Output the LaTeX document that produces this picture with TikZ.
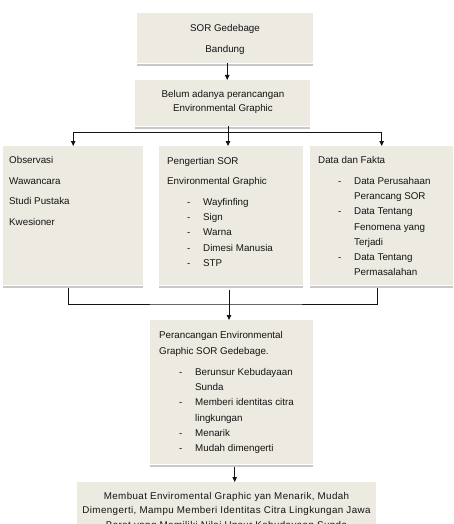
\documentclass[tikz,border=0pt]{standalone}
\usepackage{fontspec}
\setmainfont{Liberation Sans}
\newfontfamily\widefont[LetterSpace=4]{Liberation Sans}
\usepackage{tikz}
\usetikzlibrary{arrows.meta, positioning, calc}
\definecolor{boxbeige}{RGB}{236,234,225}
\definecolor{shadegrey}{RGB}{200,200,200}
\definecolor{mydark}{RGB}{20,20,20}
\tikzset{
  box/.style={rectangle, fill=boxbeige, draw=none, inner sep=0pt,
    anchor=north west},
  txt/.style={inner sep=0pt, anchor=base west, text=mydark,
    font=\fontsize{9.8}{14}\selectfont},
  ctxt/.style={txt, anchor=base},
  widetxt/.style={ctxt, font=\widefont\fontsize{9.8}{14}\selectfont},
  shadeline/.style={draw=shadegrey, line width=2.4pt},
  arrow/.style={-{Triangle[width=4.5pt,length=5pt]}, line width=0.8pt, color=mydark},
  line/.style={line width=0.8pt, color=mydark}
}

\begin{document}
\begin{tikzpicture}[x=1pt, y=-1pt]
  \useasboundingbox (0,0) rectangle (454,524);

  % boxes
  \node[box, minimum width=176, minimum height=50] (sor) at (137,13) {};
  \node[box, minimum width=175, minimum height=46] (belum) at (135,80) {};
  \node[box, minimum width=140, minimum height=139] (kiri) at (3,146) {};
  \node[box, minimum width=144, minimum height=139] (tengah) at (159,146) {};
  \node[box, minimum width=143, minimum height=139] (kanan) at (310,146) {};
  \node[box, minimum width=163, minimum height=144] (rancang) at (150,320) {};
  \node[box, minimum width=299, minimum height=60] (hasil) at (77,482) {};
  \foreach \b in {sor, belum, kiri, tengah, kanan, rancang}
    \draw[shadeline] ([yshift=-1.4pt]\b.south west) -- ([yshift=-1.4pt]\b.south east);

  % SOR Gedebage
  \node[ctxt] (sor1) at (225,31.5) {SOR Gedebage};
  \node[ctxt] (sor2) at (225,52.5) {Bandung};

  % Belum adanya perancangan
  \node[ctxt] (belum1) at (223,97.5) {Belum adanya perancangan};
  \node[ctxt] (belum2) at (223,111.5) {Environmental Graphic};

  % metode
  \foreach \t [count=\i from 0] in {Observasi, Wawancara, Studi Pustaka, Kwesioner}
    \node[txt] (metode\i) at (9,163.5+20.7*\i) {\t};

  % pengertian
  \node[txt] (peng1) at (167,164.5) {Pengertian SOR};
  \node[txt] (peng2) at (167,184.5) {Environmental Graphic};
  \foreach \t [count=\i from 0] in {Wayfinfing, Sign, Warna, Dimesi Manusia, STP} {
    \node[txt] (pdash\i) at (187,205+15.4*\i) {-};
    \node[txt] (pitem\i) at (203,205+15.4*\i) {\t};
  }

  % data dan fakta
  \node[txt] (data1) at (318,163.5) {Data dan Fakta};
  \foreach \t/\d [count=\i from 0] in {Data Perusahaan/-, Perancang SOR/, Data Tentang/-,
      Fenomena yang/, Terjadi/, Data Tentang/-, Permasalahan/} {
    \node[txt] (ddash\i) at (338,184.5+15.2*\i) {\d};
    \node[txt] (ditem\i) at (354,184.5+15.2*\i) {\t};
  }

  % perancangan
  \node[txt] (ranc1) at (159,338.5) {Perancangan Environmental};
  \node[txt] (ranc2) at (159,354.5) {Graphic SOR Gedebage.};
  \foreach \t/\d [count=\i from 0] in {Berunsur Kebudayaan/-, Sunda/, Memberi identitas citra/-,
      lingkungan/, Menarik/-, Mudah dimengerti/-} {
    \node[txt] (rdash\i) at (179,375.5+15.2*\i) {\d};
    \node[txt] (ritem\i) at (195,375.5+15.2*\i) {\t};
  }

  % hasil
  \node[widetxt] (hasil1) at (226.5,499.5) {Membuat Enviromental Graphic yan Menarik, Mudah};
  \node[widetxt] (hasil2) at (226.5,513.5) {Dimengerti, Mampu Memberi Identitas Citra Lingkungan Jawa};
  \node[widetxt] (hasil3) at (226.5,528) {Barat yang Memiliki Nilai Unsur Kebudayaan Sunda};

  % connectors
  \coordinate (cabang) at (228,132);
  \coordinate (gabung) at (229,304);
  \draw[arrow] ([xshift=2pt]sor.south) -- ([xshift=2pt]sor.south |- belum.north);
  \draw[line] (belum.south -| cabang) -- (cabang);
  \draw[arrow] (cabang) -| (kiri.north);
  \draw[arrow] (cabang) -| (kanan.north);
  \draw[arrow] (cabang) -- (cabang |- tengah.north);
  \draw[line] ([xshift=-5pt,yshift=-3pt]kiri.south) |- (gabung) -| ([xshift=-4pt,yshift=-3pt]kanan.south);
  \draw[arrow] ([yshift=-5pt]tengah.south -| gabung) -- (gabung |- rancang.north);
  \draw[arrow] ([xshift=3pt,yshift=-3pt]rancang.south) -- ([xshift=3pt]rancang.south |- hasil.north);
\end{tikzpicture}
\end{document}
